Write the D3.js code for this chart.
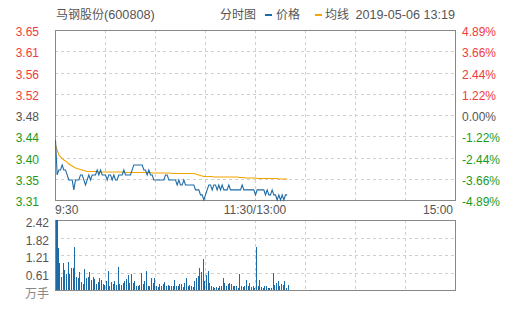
<!DOCTYPE html>
<html>
<head>
<meta charset="utf-8">
<script src="https://cdn.jsdelivr.net/npm/d3@7"></script>
<style>
  body { margin: 0; background: #fff; }
  svg text { font-family: "Liberation Sans", Arial, "Noto Sans CJK SC", sans-serif; font-size: 12px; }
</style>
</head>
<body>
<svg id="chart" width="505" height="310"></svg>
<script>
var TITLE_NAME = '马钢股份';
var TITLE_CODE = '(600808)';
var STAMP = '2019-05-06 13:19';
var PRE_CLOSE = 3.48;

var priceTicks = ['3.65', '3.61', '3.56', '3.52', '3.48', '3.44', '3.40', '3.35', '3.31'];
var pctTicks = ['4.89%', '3.66%', '2.44%', '1.22%', '0.00%', '-1.22%', '-2.44%', '-3.66%', '-4.89%'];
var volTicks = ['2.42', '1.82', '1.21', '0.61'];
var timeTicks = ['9:30', '11:30/13:00', '15:00'];

// one value per minute, 9:30 .. 11:30/13:00 .. 13:19
var prices = [
  3.43, 3.36, 3.37, 3.37, 3.38, 3.37, 3.37, 3.36, 3.35, 3.35,
  3.35, 3.33, 3.35, 3.35, 3.35, 3.36, 3.36, 3.35, 3.34, 3.35,
  3.36, 3.35, 3.36, 3.36, 3.36, 3.37, 3.36, 3.37, 3.36, 3.36,
  3.36, 3.35, 3.36, 3.36, 3.35, 3.36, 3.35, 3.35, 3.36, 3.36,
  3.36, 3.37, 3.36, 3.36, 3.36, 3.36, 3.37, 3.38, 3.38, 3.38,
  3.38, 3.38, 3.38, 3.37, 3.37, 3.36, 3.37, 3.36, 3.36, 3.35,
  3.35, 3.35, 3.35, 3.35, 3.35, 3.35, 3.36, 3.36, 3.35, 3.35,
  3.35, 3.35, 3.35, 3.34, 3.35, 3.34, 3.34, 3.35, 3.34, 3.34,
  3.34, 3.34, 3.34, 3.34, 3.33, 3.33, 3.33, 3.32, 3.32, 3.31,
  3.32, 3.33, 3.34, 3.34, 3.33, 3.34, 3.34, 3.33, 3.34, 3.33,
  3.34, 3.33, 3.33, 3.33, 3.34, 3.33, 3.33, 3.33, 3.33, 3.33,
  3.33, 3.33, 3.34, 3.33, 3.33, 3.33, 3.33, 3.33, 3.33, 3.33,
  3.32, 3.33, 3.33, 3.33, 3.33, 3.33, 3.32, 3.33, 3.32, 3.32,
  3.33, 3.32, 3.32, 3.31, 3.32, 3.31, 3.32, 3.31, 3.32, 3.32
];

var averages = [
  3.420, 3.410, 3.400, 3.396, 3.393, 3.390, 3.388, 3.385, 3.382, 3.380,
  3.378, 3.376, 3.374, 3.373, 3.372, 3.371, 3.370, 3.369, 3.368, 3.367,
  3.367, 3.367, 3.367, 3.367, 3.367, 3.367, 3.366, 3.366, 3.366, 3.366,
  3.366, 3.366, 3.366, 3.366, 3.366, 3.366, 3.366, 3.366, 3.366, 3.366,
  3.366, 3.365, 3.365, 3.365, 3.365, 3.365, 3.365, 3.365, 3.365, 3.365,
  3.365, 3.365, 3.365, 3.365, 3.365, 3.365, 3.365, 3.365, 3.364, 3.364,
  3.364, 3.364, 3.364, 3.364, 3.364, 3.364, 3.364, 3.364, 3.364, 3.364,
  3.363, 3.363, 3.363, 3.363, 3.363, 3.363, 3.363, 3.363, 3.363, 3.363,
  3.363, 3.363, 3.363, 3.363, 3.362, 3.361, 3.360, 3.359, 3.358, 3.357,
  3.357, 3.357, 3.357, 3.357, 3.357, 3.356, 3.356, 3.356, 3.356, 3.356,
  3.356, 3.356, 3.356, 3.356, 3.356, 3.356, 3.356, 3.356, 3.356, 3.356,
  3.355, 3.355, 3.355, 3.355, 3.354, 3.354, 3.354, 3.354, 3.354, 3.354,
  3.354, 3.353, 3.353, 3.353, 3.353, 3.353, 3.353, 3.353, 3.353, 3.353,
  3.353, 3.353, 3.353, 3.353, 3.352, 3.352, 3.352, 3.352, 3.352, 3.352
];

// 万手
var volumes = [
  2.42, 1.45, 0.93, 0.44, 0.93, 0.70, 0.55, 0.97, 0.55, 0.76,
  0.76, 1.48, 0.44, 0.40, 0.62, 0.28, 0.21, 0.73, 0.41, 0.44,
  0.61, 0.35, 0.44, 0.38, 0.21, 0.26, 0.41, 0.36, 0.21, 0.18,
  0.32, 0.67, 0.13, 0.28, 0.21, 0.32, 0.18, 0.78, 0.21, 0.18,
  0.24, 0.32, 0.38, 0.53, 0.24, 0.55, 0.24, 0.32, 0.15, 0.13,
  0.18, 0.59, 0.21, 0.30, 0.65, 0.13, 0.13, 0.41, 0.24, 0.41,
  0.13, 0.09, 0.21, 0.13, 0.21, 0.26, 0.13, 0.18, 0.13, 0.13,
  0.13, 0.36, 0.13, 0.15, 0.21, 0.21, 0.09, 0.24, 0.41, 0.15,
  0.18, 0.13, 0.09, 0.30, 0.41, 0.47, 0.76, 0.62, 1.08, 0.32,
  0.53, 0.67, 0.24, 0.13, 0.09, 0.07, 0.09, 0.07, 0.13, 0.13,
  0.41, 0.24, 0.13, 0.21, 0.24, 0.21, 0.13, 0.13, 0.13, 0.07,
  0.55, 0.13, 0.09, 0.13, 0.36, 0.13, 0.24, 0.09, 0.13, 0.07,
  1.47, 0.13, 0.36, 0.09, 0.07, 0.13, 0.15, 0.07, 0.07, 0.07,
  0.59, 0.18, 0.24, 0.30, 0.13, 0.21, 0.18, 0.32, 0.07, 0.18
];

var BLUE = '#1c6aa6';
var ORANGE = '#f5a400';
var RED = '#f03c3c';
var GREEN = '#1b9a1b';
var GREY = '#555';

var svg = d3.select('#chart');

var left = 55, right = 455;
var priceTop = 30, priceBottom = 200;
var volTop = 220, volBottom = 290;

var x = d3.scaleLinear().domain([0, 240]).range([left, right]);
var y = d3.scaleLinear()
  .domain([PRE_CLOSE * (1 - 0.0489), PRE_CLOSE * (1 + 0.0489)])
  .range([priceBottom, priceTop]);
var gridY = d3.scaleLinear().domain([0, priceTicks.length - 1]).range([priceTop, priceBottom]);
var vy = d3.scaleLinear().domain([0, +volTicks[0]]).range([volBottom, volTop]);
var volGridY = d3.scaleLinear().domain([0, volTicks.length]).range([volTop, volBottom]);

function tickColour(i, mid) {
  if (i < mid) return RED;
  if (i > mid) return GREEN;
  return GREY;
}

function drawGrid(top, bottom, rows) {
  var g = svg.append('g')
    .attr('stroke', '#cfcfcf')
    .attr('stroke-dasharray', '3,3')
    .attr('shape-rendering', 'crispEdges');

  d3.range(1, 8).forEach(function(k) {
    g.append('line')
      .attr('x1', x(k * 30) + 0.5).attr('x2', x(k * 30) + 0.5)
      .attr('y1', top).attr('y2', bottom);
  });

  rows.forEach(function(ry) {
    g.append('line')
      .attr('x1', left).attr('x2', right)
      .attr('y1', ry + 0.5).attr('y2', ry + 0.5);
  });

  svg.append('rect')
    .attr('x', left + 0.5).attr('y', top + 0.5)
    .attr('width', right - left).attr('height', bottom - top)
    .attr('fill', 'none')
    .attr('stroke', '#888')
    .attr('shape-rendering', 'crispEdges');
}

drawGrid(priceTop, priceBottom, d3.range(1, priceTicks.length - 1).map(gridY));
drawGrid(volTop, volBottom, d3.range(1, volTicks.length).map(volGridY));

// header
var title = svg.append('text').attr('x', 56).attr('y', 19).attr('fill', GREY);
title.append('tspan').text(TITLE_NAME);
title.append('tspan').style('font-size', '12.7px').text(TITLE_CODE);
svg.append('text').attr('x', 220).attr('y', 19).attr('fill', GREY).text('分时图');
svg.append('rect').attr('x', 265).attr('y', 14).attr('width', 7).attr('height', 2).attr('fill', BLUE);
svg.append('text').attr('x', 276).attr('y', 19).attr('fill', GREY).text('价格');
svg.append('rect').attr('x', 315).attr('y', 14).attr('width', 7).attr('height', 2).attr('fill', ORANGE);
svg.append('text').attr('x', 325).attr('y', 19).attr('fill', GREY).text('均线');
svg.append('text').attr('x', 455).attr('y', 19).attr('text-anchor', 'end')
  .attr('fill', GREY).style('font-size', '12.6px').text(STAMP);

// price / percent labels
var mid = (priceTicks.length - 1) / 2;
svg.append('g').selectAll('text')
  .data(priceTicks)
  .enter()
  .append('text')
    .attr('x', 39)
    .attr('y', function(d, i) { return gridY(i) + 6; })
    .attr('text-anchor', 'end')
    .attr('fill', function(d, i) { return tickColour(i, mid); })
    .text(function(d) { return d; });

svg.append('g').selectAll('text')
  .data(pctTicks)
  .enter()
  .append('text')
    .attr('x', 462)
    .attr('y', function(d, i) { return gridY(i) + 6; })
    .attr('fill', function(d, i) { return tickColour(i, mid); })
    .text(function(d) { return d; });

// time labels
svg.append('text').attr('x', x(0)).attr('y', 214).attr('fill', GREY).text(timeTicks[0]);
svg.append('text').attr('x', x(120)).attr('y', 214).attr('text-anchor', 'middle').attr('fill', GREY).text(timeTicks[1]);
svg.append('text').attr('x', x(240) - 2).attr('y', 214).attr('text-anchor', 'end').attr('fill', GREY).text(timeTicks[2]);

// volume labels
svg.append('g').selectAll('text')
  .data(volTicks)
  .enter()
  .append('text')
    .attr('x', 49)
    .attr('y', function(d, i) { return volGridY(i) + 7; })
    .attr('text-anchor', 'end')
    .attr('fill', GREY)
    .text(function(d) { return d; });
svg.append('text').attr('x', 49).attr('y', 298).attr('text-anchor', 'end').attr('fill', '#888').text('万手');

// volume bars
svg.append('g')
  .attr('shape-rendering', 'crispEdges')
  .selectAll('rect')
  .data(volumes)
  .enter()
  .append('rect')
    .attr('x', function(d, i) { return Math.round(x(i)) + 1; })
    .attr('y', function(d) { return Math.round(vy(d)); })
    .attr('width', function(d, i) { return i === 0 ? 2 : 1; })
    .attr('height', function(d) { return volBottom - Math.round(vy(d)); })
    .attr('fill', BLUE);

// lines
var line = d3.line()
  .x(function(d, i) { return x(i) + 0.5; })
  .y(function(d) { return y(d); });

svg.append('path')
  .datum(averages)
  .attr('d', line)
  .attr('fill', 'none')
  .attr('stroke', ORANGE)
  .attr('stroke-width', 1.1);

svg.append('path')
  .datum(prices)
  .attr('d', line)
  .attr('fill', 'none')
  .attr('stroke', BLUE)
  .attr('stroke-width', 1.1);
</script>
</body>
</html>
